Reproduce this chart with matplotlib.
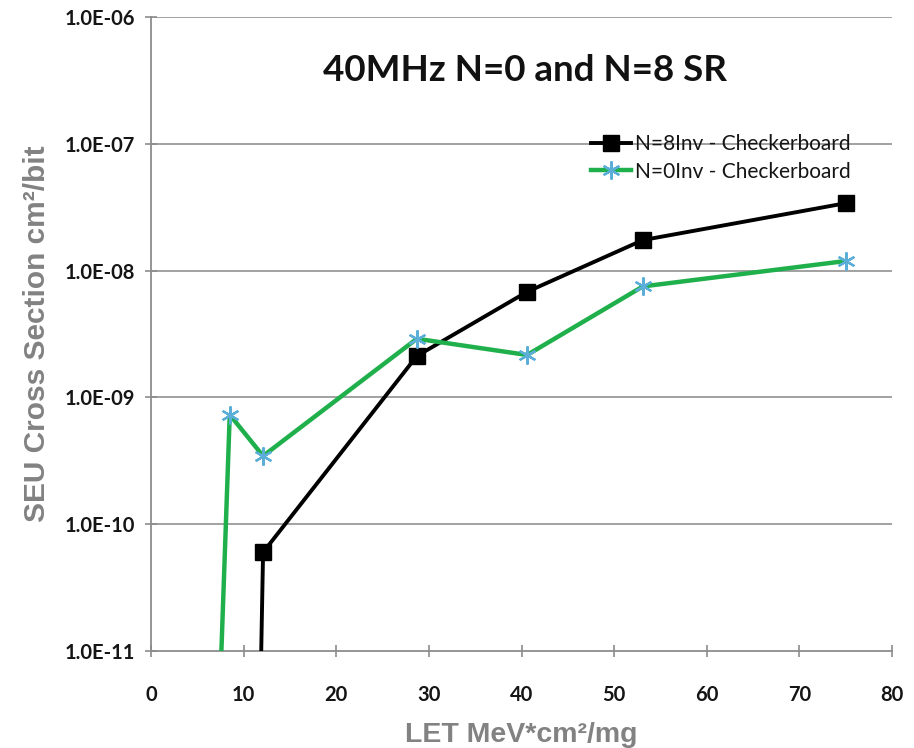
import matplotlib
matplotlib.use("Agg")
import matplotlib.pyplot as plt
from matplotlib.ticker import FixedLocator, NullLocator

# LET (MeV*cm^2/mg) and SEU cross section (cm^2/bit)
let_n8 = [11.9, 12.1, 28.7, 40.6, 53.1, 75.0]
xs_n8 = [1.0e-11, 6.0e-11, 2.12e-9, 6.8e-9, 1.74e-8, 3.4e-8]

let_n0 = [7.6, 8.5, 12.1, 28.7, 40.6, 53.1, 75.0]
xs_n0 = [1.0e-11, 7.3e-10, 3.45e-10, 2.9e-9, 2.16e-9, 7.5e-9, 1.19e-8]

series_labels = ["N=8Inv - Checkerboard", "N=0Inv - Checkerboard"]
title = "40MHz N=0 and N=8 SR"
y_ticks = [1e-11, 1e-10, 1e-9, 1e-8, 1e-7, 1e-6]
y_tick_labels = ["1.0E-11", "1.0E-10", "1.0E-09", "1.0E-08", "1.0E-07", "1.0E-06"]
x_ticks = [0, 10, 20, 30, 40, 50, 60, 70, 80]

body_font = ["Lato", "DejaVu Sans"]
label_font = ["Liberation Sans", "DejaVu Sans"]

fig = plt.figure(figsize=(9.14, 7.48), dpi=100)
ax = fig.add_axes([0.1652, 0.1297, 0.9760 - 0.1652, 0.9773 - 0.1297])

ax.set_yscale("log")
ax.set_xlim(0, 80)
ax.set_ylim(1e-11, 1e-6)

for y in y_ticks[1:]:
    ax.axhline(y, color="#9a9a9a", lw=1.3, zorder=1)

# first point of each series sits on the axis floor without a marker
ax.plot(let_n8, xs_n8, color="black", lw=2.8, marker="s", markersize=12,
        markevery=list(range(1, len(let_n8))), label=series_labels[0],
        zorder=3, clip_on=True)
ax.plot(let_n0, xs_n0, color="#1fb04c", lw=3.2, marker=(6, 2, 0), markersize=13,
        markeredgecolor="#5aaed8", markerfacecolor="#5aaed8", markeredgewidth=1.6,
        markevery=list(range(1, len(let_n0))), label=series_labels[1],
        zorder=3, clip_on=True)

for s in ("top", "right"):
    ax.spines[s].set_visible(False)
for s in ("left", "bottom"):
    ax.spines[s].set_color("#8c8c8c")
    ax.spines[s].set_linewidth(1.3)

ax.yaxis.set_major_locator(FixedLocator(y_ticks))
ax.yaxis.set_minor_locator(NullLocator())
ax.set_yticklabels(y_tick_labels)
ax.set_xticks(x_ticks)
ax.tick_params(axis="both", direction="inout", length=9, width=1.2,
               color="#8c8c8c", labelcolor="#151515")
ax.tick_params(axis="y", pad=7)
ax.tick_params(axis="x", pad=20)
for lab in ax.get_xticklabels() + ax.get_yticklabels():
    lab.set_family(body_font)
    lab.set_fontweight("bold")
    lab.set_fontsize(14.5)

ax.set_xlabel("LET MeV*cm²/mg", family=label_font, fontweight="bold",
              fontsize=20.5, color="#828282", labelpad=12)
ax.set_ylabel("SEU Cross Section cm²/bit", family=label_font,
              fontweight="bold", fontsize=21.5, color="#828282", labelpad=10)

ax.text(0.505, 0.915, title, transform=ax.transAxes, ha="center", va="center",
        family=body_font, fontweight="bold", fontsize=26.5, color="#111111")

leg = ax.legend(loc="upper left", bbox_to_anchor=(0.594, 0.815), frameon=False,
                borderaxespad=0, borderpad=0,
                handlelength=1.9, handletextpad=0.2, labelspacing=0.35,
                prop={"family": body_font, "size": 15})
for t in leg.get_texts():
    t.set_color("#151515")

fig.savefig("out.png", dpi=100)
